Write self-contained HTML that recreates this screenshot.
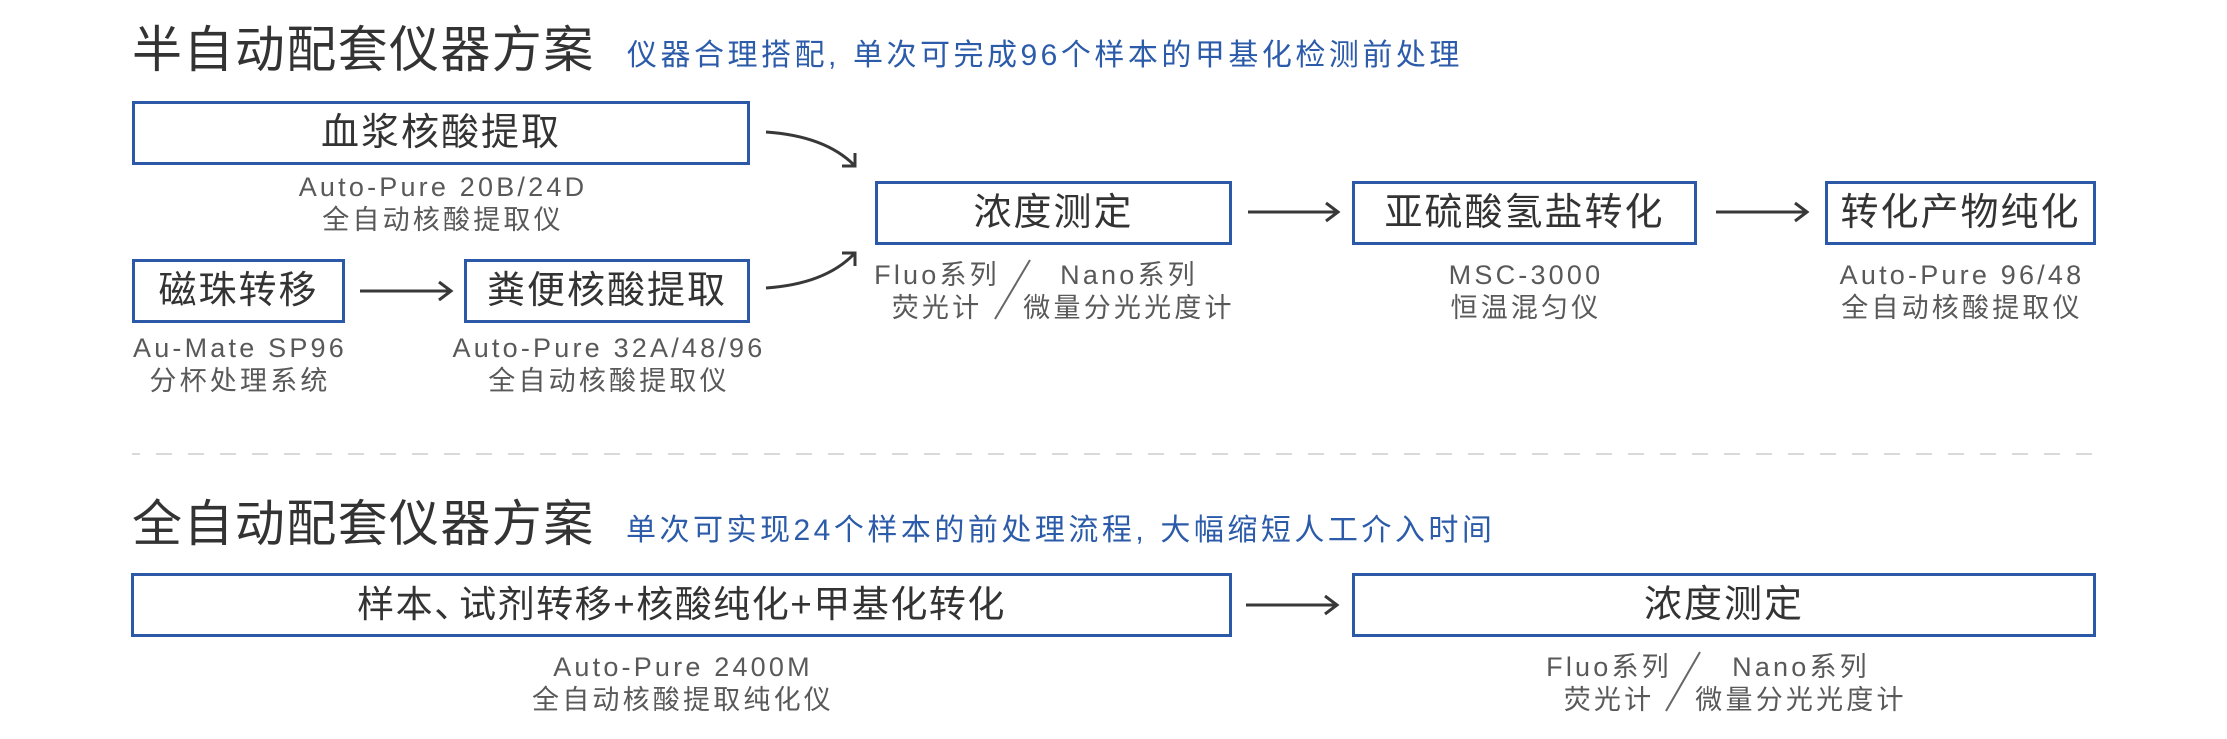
<!DOCTYPE html>
<html>
<head>
<meta charset="utf-8">
<style>
  html, body { margin:0; padding:0; }
  body { width:2227px; height:739px; position:relative; overflow:hidden; background:#fff;
         font-family:"Liberation Sans","Noto Sans CJK SC",sans-serif; }
  .t { position:absolute; white-space:nowrap; }
  .title { font-size:50px; letter-spacing:1.4px; line-height:60px; color:#333; left:132px; }
  .sub { font-size:30px; letter-spacing:3.5px; line-height:40px; color:#2b5ba9; }
  .cm { display:inline-block; width:25px; letter-spacing:0; }
  .box { position:absolute; box-sizing:border-box; border:3px solid #2c59a7; height:64px;
         text-align:center; line-height:58px; font-size:38px; letter-spacing:2px; color:#333; white-space:nowrap; }
  .cap { position:absolute; font-size:27px; letter-spacing:3.2px; line-height:34px; color:#595959;
         white-space:nowrap; transform:translateX(-50%); }
  svg { position:absolute; left:0; top:0; }
</style>
</head>
<body>

<svg width="2227" height="739" viewBox="0 0 2227 739">
  <g fill="none" stroke="#383838" stroke-width="3">
    <!-- curved arrows -->
    <path d="M766,132 Q825,136 854,165"/>
    <polyline points="855,153 855,166 842,166"/>
    <path d="M766,288 Q825,284 854,254"/>
    <polyline points="842,253 855,253 855,266"/>
    <!-- straight arrows -->
    <line x1="360" y1="291" x2="450" y2="291"/>
    <polyline points="439,282 451,291 439,300"/>
    <line x1="1248" y1="212" x2="1337" y2="212"/>
    <polyline points="1326,203 1338,212 1326,221"/>
    <line x1="1716" y1="212" x2="1806" y2="212"/>
    <polyline points="1795,203 1807,212 1795,221"/>
    <line x1="1246" y1="605" x2="1336" y2="605"/>
    <polyline points="1325,596 1337,605 1325,614"/>
  </g>
  <!-- slashes -->
  <g stroke="#666" stroke-width="2">
    <line x1="1030" y1="260" x2="995" y2="319"/>
    <line x1="1700" y1="652" x2="1666" y2="711"/>
  </g>
  <!-- dashed separator -->
  <line x1="132" y1="454" x2="2096" y2="454" stroke="#d9d9d9" stroke-width="2" stroke-dasharray="16 16" stroke-dashoffset="8"/>
</svg>

<!-- Section 1 -->
<div class="t title" style="top:20px;">半自动配套仪器方案</div>
<div class="t sub" style="left:627px; top:36px;">仪器合理搭配<span class="cm">,</span>单次可完成96个样本的甲基化检测前处理</div>

<div class="box" style="left:132px; top:101px; width:618px;">血浆核酸提取</div>
<div class="cap" style="left:443px; top:170px;">Auto-Pure 20B/24D</div>
<div class="cap" style="left:443px; top:203px;">全自动核酸提取仪</div>

<div class="box" style="left:132px; top:259px; width:213px;">磁珠转移</div>
<div class="cap" style="left:240px; top:331px;">Au-Mate SP96</div>
<div class="cap" style="left:240px; top:364px;">分杯处理系统</div>

<div class="box" style="left:464px; top:259px; width:286px;">粪便核酸提取</div>
<div class="cap" style="left:609px; top:331px;">Auto-Pure 32A/48/96</div>
<div class="cap" style="left:609px; top:364px;">全自动核酸提取仪</div>

<div class="box" style="left:875px; top:181px; width:357px;">浓度测定</div>
<div class="cap" style="left:937px; top:258px;">Fluo系列</div>
<div class="cap" style="left:937px; top:291px;">荧光计</div>
<div class="cap" style="left:1129px; top:258px;">Nano系列</div>
<div class="cap" style="left:1129px; top:291px;">微量分光光度计</div>

<div class="box" style="left:1352px; top:181px; width:345px;">亚硫酸氢盐转化</div>
<div class="cap" style="left:1526px; top:258px;">MSC-3000</div>
<div class="cap" style="left:1526px; top:291px;">恒温混匀仪</div>

<div class="box" style="left:1825px; top:181px; width:271px;">转化产物纯化</div>
<div class="cap" style="left:1962px; top:258px;">Auto-Pure 96/48</div>
<div class="cap" style="left:1962px; top:291px;">全自动核酸提取仪</div>

<!-- Section 2 -->
<div class="t title" style="top:494px;">全自动配套仪器方案</div>
<div class="t sub" style="left:626px; top:511px;">单次可实现24个样本的前处理流程<span class="cm">,</span>大幅缩短人工介入时间</div>

<div class="box" style="left:131px; top:573px; width:1101px; font-size:37px; letter-spacing:1.5px;">样本<span style="letter-spacing:-12px;">、</span>试剂转移+核酸纯化+甲基化转化</div>
<div class="cap" style="left:683px; top:650px;">Auto-Pure 2400M</div>
<div class="cap" style="left:683px; top:683px;">全自动核酸提取纯化仪</div>

<div class="box" style="left:1352px; top:573px; width:744px;">浓度测定</div>
<div class="cap" style="left:1609px; top:650px;">Fluo系列</div>
<div class="cap" style="left:1609px; top:683px;">荧光计</div>
<div class="cap" style="left:1801px; top:650px;">Nano系列</div>
<div class="cap" style="left:1801px; top:683px;">微量分光光度计</div>

</body>
</html>
